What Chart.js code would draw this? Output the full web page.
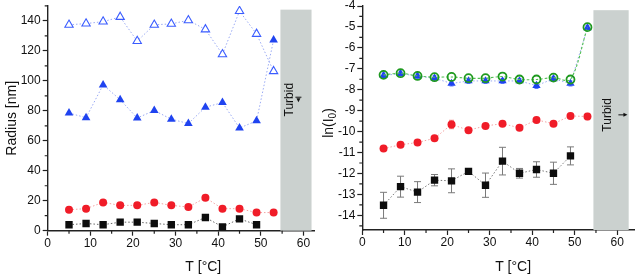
<!DOCTYPE html>
<html>
<head>
<meta charset="utf-8">
<script src="https://cdn.jsdelivr.net/npm/chart.js@4"></script>
<style>
    html, body { margin: 0; padding: 0; background: #fff; }
    .wrap { display: flex; width: 640px; height: 275px; }
    canvas { display: block; }
</style>
</head>
<body>
<div class="wrap">
    <canvas id="radiusChart" width="320" height="275"></canvas>
    <canvas id="intensityChart" width="320" height="275"></canvas>
</div>
<script>
const FONT = '"Liberation Sans", Arial, sans-serif';

// Shared temperature steps (°C)
const temperatures = [5, 9, 13, 17, 21, 25, 29, 33, 37, 41, 45, 49, 53];

// Left panel: radius [nm]
const radiusOpenTriangles = [137.4, 138.2, 139.5, 142.6, 126.5, 137.4, 138.0, 140.4, 134.3, 117.7, 146.5, 131.3, 106.4];
const radiusFilledTriangles = [78.5, 75.4, 97.3, 87.4, 75.2, 80.2, 74.4, 71.5, 82.4, 85.5, 68.5, 73.3, 127.3];
const radiusCircles = [14.0, 14.7, 18.9, 16.9, 16.9, 18.9, 16.9, 15.8, 22.0, 14.7, 14.7, 12.1, 12.1];
const radiusSquares = [4.0, 4.8, 4.0, 5.7, 5.7, 4.8, 4.0, 4.0, 8.8, 2.6, 7.9, 4.0, null];

// Right panel: ln(I0) with error bars
const lnOpenCircles = [-7.29, -7.21, -7.34, -7.40, -7.39, -7.45, -7.45, -7.37, -7.51, -7.51, -7.42, -7.51, -5.01];
const lnTriangles = [-7.32, -7.23, -7.35, -7.45, -7.70, -7.58, -7.58, -7.58, -7.58, -7.80, -7.48, -7.70, -5.04];
const lnTrianglesErr = [0.12, 0.12, 0.1, 0.12, 0.12, 0.12, 0.12, 0.12, 0.12, 0.14, 0.12, 0.12, 0.1];
const lnCircles = [-10.81, -10.63, -10.52, -10.32, -9.66, -9.93, -9.73, -9.62, -9.82, -9.44, -9.62, -9.25, -9.28];
const lnCirclesErr = [0.05, 0.05, 0.05, 0.06, 0.2, 0.08, 0.08, 0.1, 0.08, 0.1, 0.1, 0.12, 0.15];
const lnSquares = [-13.52, -12.63, -12.89, -12.32, -12.35, -11.90, -12.56, -11.41, -11.99, -11.81, -11.99, -11.16, null];
const lnSquaresErr = [0.62, 0.5, 0.5, 0.27, 0.57, 0.1, 0.58, 0.66, 0.23, 0.37, 0.53, 0.43, null];

function points(values) {
    return temperatures.map((t, i) => ({ x: t, y: values[i] }));
}

// Gray "Turbid" region, error bars, minor ticks and axis titles
const decor = {
    id: 'decor',
    beforeDatasetsDraw(chart, args, opts) {
        const { ctx } = chart;
        const xs = chart.scales.x, ys = chart.scales.y;
        const b = opts.box;
        const x0 = xs.getPixelForValue(b.x0), x1 = xs.getPixelForValue(b.x1);
        const y0 = ys.getPixelForValue(b.y0), y1 = ys.getPixelForValue(b.y1);
        ctx.save();
        ctx.fillStyle = '#cbd1cf';
        ctx.fillRect(x0, y0, x1 - x0, y1 - y0);

        // "Turbid" label
        const tx = x0 + opts.textDx, ty = ys.getPixelForValue(b.textY);
        ctx.save();
        ctx.translate(tx, ty);
        ctx.rotate(-Math.PI / 2);
        ctx.fillStyle = '#111';
        ctx.font = '12px ' + FONT;
        ctx.textAlign = 'center';
        ctx.textBaseline = 'middle';
        ctx.fillText('Turbid', 0, 0);
        ctx.restore();

        // small arrow
        const ax = x0 + opts.arrowDx, ay = ys.getPixelForValue(b.arrowY);
        ctx.fillStyle = '#111';
        ctx.strokeStyle = '#111';
        ctx.lineWidth = 1;
        ctx.beginPath();
        if (opts.arrow === 'down') {
            ctx.moveTo(ax - 3, ay - 2.5); ctx.lineTo(ax + 3, ay - 2.5);
            ctx.stroke();
            ctx.beginPath();
            ctx.moveTo(ax - 2, ay - 1.5); ctx.lineTo(ax + 2, ay - 1.5); ctx.lineTo(ax, ay + 2.5);
            ctx.closePath(); ctx.fill();
        } else {
            ctx.moveTo(ax - 5, ay); ctx.lineTo(ax + 1, ay);
            ctx.stroke();
            ctx.beginPath();
            ctx.moveTo(ax + 4, ay); ctx.lineTo(ax, ay - 2); ctx.lineTo(ax, ay + 2);
            ctx.closePath(); ctx.fill();
        }

        // error bars
        chart.data.datasets.forEach((ds, i) => {
            if (!ds.errors) return;
            const meta = chart.getDatasetMeta(i);
            ctx.strokeStyle = ds.errorColor;
            ctx.lineWidth = 1;
            meta.data.forEach((pt, j) => {
                const v = ds.data[j].y, e = ds.errors[j];
                if (v === null || e === null) return;
                const yt = ys.getPixelForValue(v + e), yb = ys.getPixelForValue(v - e);
                const c = ds.capWidth;
                ctx.beginPath();
                ctx.moveTo(pt.x, yt); ctx.lineTo(pt.x, yb);
                ctx.moveTo(pt.x - c, yt); ctx.lineTo(pt.x + c, yt);
                ctx.moveTo(pt.x - c, yb); ctx.lineTo(pt.x + c, yb);
                ctx.stroke();
            });
        });
        ctx.restore();
    },
    afterDraw(chart, args, opts) {
        const { ctx, chartArea } = chart;
        const xs = chart.scales.x, ys = chart.scales.y;
        ctx.save();
        // minor ticks
        ctx.strokeStyle = '#222';
        ctx.lineWidth = 1.2;
        ctx.beginPath();
        opts.xMinor.forEach(v => {
            const px = xs.getPixelForValue(v);
            ctx.moveTo(px, chartArea.bottom); ctx.lineTo(px, chartArea.bottom + 3);
        });
        opts.yMinor.forEach(v => {
            const py = ys.getPixelForValue(v);
            ctx.moveTo(chartArea.left, py); ctx.lineTo(chartArea.left - 3, py);
        });
        ctx.stroke();

        // axis titles
        ctx.fillStyle = '#111';
        ctx.font = '14px ' + FONT;
        ctx.textBaseline = 'middle';
        ctx.textAlign = 'center';
        ctx.fillText('T [°C]', xs.getPixelForValue(opts.xTitleAt), 267);

        ctx.translate(opts.yTitleX, (chartArea.top + chartArea.bottom) / 2 + opts.yTitleDy);
        ctx.rotate(-Math.PI / 2);
        if (opts.subscript) {
            const main = opts.yTitle, sub = opts.subscript;
            const w1 = ctx.measureText(main).width;
            ctx.font = '10px ' + FONT;
            const w2 = ctx.measureText(sub).width;
            ctx.font = '14px ' + FONT;
            const w3 = ctx.measureText(')').width;
            let x = -(w1 + w2 + w3) / 2;
            ctx.textAlign = 'left';
            ctx.fillText(main, x, 0);
            x += w1;
            ctx.font = '10px ' + FONT;
            ctx.fillText(sub, x, 4);
            x += w2;
            ctx.font = '14px ' + FONT;
            ctx.fillText(')', x, 0);
        } else {
            ctx.fillText(opts.yTitle, 0, 0);
        }
        ctx.restore();
    }
};

function axis(min, max, step, fit) {
    return {
        type: 'linear',
        min: min,
        max: max,
        border: { display: true, color: '#222', width: 1.4 },
        grid: { display: true, drawOnChartArea: false, drawTicks: true, tickLength: 5, tickColor: '#222', tickWidth: 1.2 },
        ticks: {
            stepSize: step,
            includeBounds: false,
            autoSkip: false,
            maxRotation: 0,
            padding: 2,
            color: '#111',
            font: { family: FONT, size: 12, lineHeight: 1 },
            callback: (v) => String(v)
        },
        afterFit: (s) => {
            fit(s);
            // let the layout padding alone decide the plot edges
            s.paddingTop = 0; s.paddingBottom = 0;
            s.paddingLeft = 0; s.paddingRight = 0;
        }
    };
}

function minorValues(from, to, step) {
    const out = [];
    for (let v = from; v <= to + 1e-9; v += step) out.push(Math.round(v * 100) / 100);
    return out;
}

function initRadiusChart() {
    const ctx = document.getElementById('radiusChart').getContext('2d');
    new Chart(ctx, {
        type: 'line',
        data: {
            datasets: [{
                label: 'open triangles',
                data: points(radiusOpenTriangles),
                borderColor: '#9aaaf4',
                borderWidth: 1,
                borderDash: [1.5, 2],
                pointStyle: 'triangle',
                pointRadius: 4.8,
                pointBorderWidth: 1.1,
                pointBorderColor: '#3a5cff',
                pointBackgroundColor: '#ffffff'
            }, {
                label: 'filled triangles',
                data: points(radiusFilledTriangles),
                borderColor: '#9aaaf4',
                borderWidth: 1,
                borderDash: [1.5, 2],
                pointStyle: 'triangle',
                pointRadius: 5,
                pointBorderWidth: 0,
                pointBackgroundColor: '#1f43f0'
            }, {
                label: 'circles',
                data: points(radiusCircles),
                borderColor: '#f4a3a3',
                borderWidth: 1,
                borderDash: [1.5, 2],
                pointStyle: 'circle',
                pointRadius: 4,
                pointBorderWidth: 0,
                pointBackgroundColor: '#f01c28'
            }, {
                label: 'squares',
                data: points(radiusSquares),
                borderColor: '#666',
                borderWidth: 1,
                borderDash: [1.5, 2],
                pointStyle: 'rect',
                pointRadius: 5.2,
                pointBorderWidth: 0,
                pointBackgroundColor: '#0d0d0d'
            }]
        },
        options: {
            responsive: false,
            animation: false,
            devicePixelRatio: 1,
            layout: { padding: { top: 2, right: 3, left: 0, bottom: 0 } },
            plugins: {
                legend: { display: false },
                tooltip: { enabled: false },
                decor: {
                    box: { x0: 54.6, x1: 61.9, y0: 147.5, y1: 0, textY: 87.4, arrowY: 87.4 },
                    textDx: 9, arrowDx: 18, arrow: 'down',
                    xMinor: minorValues(5, 55, 10),
                    yMinor: minorValues(10, 150, 20),
                    xTitleAt: 36.5,
                    yTitle: 'Radius [nm]', yTitleX: 12, yTitleDy: 0
                }
            },
            scales: {
                x: axis(0, 62.5, 10, s => { s.height = 44.3; }),
                y: axis(0, 150, 20, s => { s.width = 47.7; })
            }
        },
        plugins: [decor]
    });
}

function initIntensityChart() {
    const ctx = document.getElementById('intensityChart').getContext('2d');
    new Chart(ctx, {
        type: 'line',
        data: {
            datasets: [{
                label: 'open circles',
                data: points(lnOpenCircles),
                order: 0,
                borderColor: '#52c052',
                borderWidth: 1.1,
                borderDash: [2.5, 2],
                tension: 0.3,
                pointStyle: 'circle',
                pointRadius: 4,
                pointBorderWidth: 1.8,
                pointBorderColor: '#1f9a1f',
                pointBackgroundColor: 'rgba(0,0,0,0)'
            }, {
                label: 'triangles',
                data: points(lnTriangles),
                order: 1,
                errors: lnTrianglesErr,
                errorColor: '#5a74ff',
                capWidth: 2,
                borderColor: '#9aaaf4',
                borderWidth: 1,
                borderDash: [1.5, 2],
                pointStyle: 'triangle',
                pointRadius: 4.8,
                pointBorderWidth: 0,
                pointBackgroundColor: '#1f43f0'
            }, {
                label: 'circles',
                data: points(lnCircles),
                order: 2,
                errors: lnCirclesErr,
                errorColor: '#f27a7a',
                capWidth: 2.5,
                borderColor: '#f4a3a3',
                borderWidth: 1,
                borderDash: [1.5, 2],
                pointStyle: 'circle',
                pointRadius: 4,
                pointBorderWidth: 0,
                pointBackgroundColor: '#f01c28'
            }, {
                label: 'squares',
                data: points(lnSquares),
                order: 3,
                errors: lnSquaresErr,
                errorColor: '#7a7a7a',
                capWidth: 3.5,
                borderColor: '#777',
                borderWidth: 1,
                borderDash: [1.5, 2],
                pointStyle: 'rect',
                pointRadius: 5.2,
                pointBorderWidth: 0,
                pointBackgroundColor: '#0d0d0d'
            }]
        },
        options: {
            responsive: false,
            animation: false,
            devicePixelRatio: 1,
            layout: { padding: { top: 6, right: 2, left: 0, bottom: 0 } },
            plugins: {
                legend: { display: false },
                tooltip: { enabled: false },
                decor: {
                    box: { x0: 54.4, x1: 62.7, y0: -4.2, y1: -14.7, textY: -9.2, arrowY: -9.2 },
                    textDx: 14.5, arrowDx: 30, arrow: 'right',
                    xMinor: minorValues(5, 55, 10),
                    yMinor: minorValues(-14.5, -4.5, 1),
                    xTitleAt: 35.5,
                    yTitle: 'ln(I', subscript: '0', yTitleX: 9, yTitleDy: 5
                }
            },
            scales: {
                x: axis(0, 64, 10, s => { s.height = 45; }),
                y: axis(-14.7, -4, 1, s => { s.width = 42.3; })
            }
        },
        plugins: [decor]
    });
}

document.addEventListener('DOMContentLoaded', function () {
    initRadiusChart();
    initIntensityChart();
});
</script>
</body>
</html>
